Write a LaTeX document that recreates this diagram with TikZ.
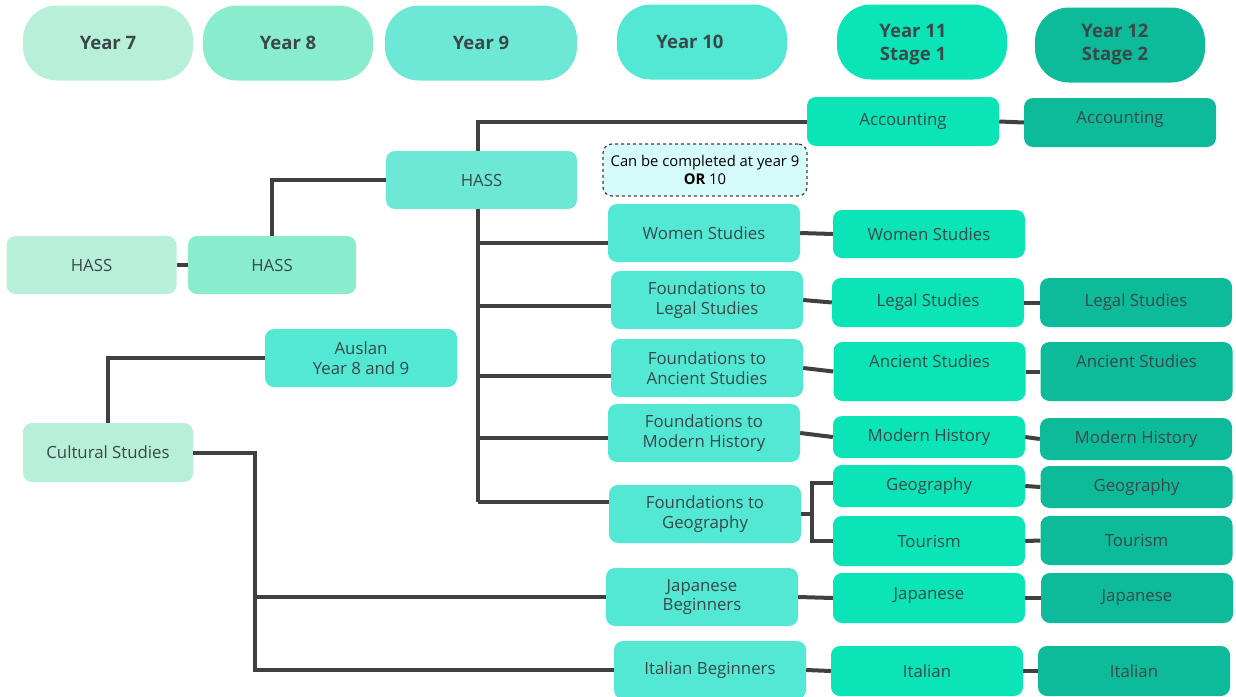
\documentclass[tikz,border=0pt]{standalone}
\usepackage{fontspec}
\setmainfont{Open Sans}

\definecolor{c7}{HTML}{B8EFD9}
\definecolor{c8}{HTML}{88ECCD}
\definecolor{c9}{HTML}{6DE8D6}
\definecolor{c10}{HTML}{52E8D4}
\definecolor{c11}{HTML}{0AE4B6}
\definecolor{c12}{HTML}{0DBA9A}
\definecolor{notefill}{HTML}{D5FBFA}
\definecolor{linecol}{HTML}{404040}
\definecolor{txt}{HTML}{3A4848}

\tikzset{
  yearpill/.style={rounded corners=34pt, minimum width=170pt, minimum height=75pt,
    inner sep=0pt, align=center, text=txt, font=\fontsize{18.5}{23}\selectfont\bfseries},
  course/.style={rounded corners=9pt, minimum width=192pt, minimum height=58pt,
    inner sep=0pt, align=center, text=txt, font=\fontsize{16.8}{19.5}\selectfont},
  notebox/.style={rounded corners=9pt, draw=linecol, dashed, line width=1.2pt,
    fill=notefill, minimum width=204pt, minimum height=52pt, inner sep=0pt,
    align=center, text=black, font=\fontsize{14.8}{18}\selectfont},
  textup/.style={text depth=#1},
  link/.style={draw=linecol, line width=4pt}
}
% shifts a heading line to the left of the pill's centre
\newcommand{\leftby}[1]{\hspace*{-#1}}

\begin{document}
\begin{tikzpicture}[x=1pt, y=-1pt]
\useasboundingbox (0,0) rectangle (1236,696);

% year headings
\node[yearpill, fill=c7]  (y7)  at (108,43)  {Year 7};
\node[yearpill, fill=c8]  (y8)  at (288,43)  {Year 8};
\node[yearpill, fill=c9, minimum width=192pt] (y9) at (481,43) {Year 9};
\node[yearpill, fill=c10] (y10) at (702,42)  {\leftby{24pt}Year 10};
\node[yearpill, fill=c11, text depth=-3pt] (y11) at (922,42) {\leftby{18pt}Year 11\\\leftby{18pt}Stage 1};
\node[yearpill, fill=c12] (y12) at (1120,45) {\leftby{10pt}Year 12\\\leftby{10pt}Stage 2};

% years 7 to 9
\node[course, fill=c7, minimum width=170pt] (hass7) at (91.5,265) {HASS};
\node[course, fill=c8, minimum width=168pt] (hass8) at (272,265) {HASS};
\node[course, fill=c9, minimum width=191pt] (hass9) at (481.5,180) {HASS};
\node[course, fill=c10] (auslan) at (361,358) {Auslan\\Year 8 and 9};
\node[course, fill=c7, minimum width=170pt, minimum height=59pt] (cult) at (108,452.5) {Cultural Studies};

% year 10
\node[notebox] (note) at (705,170) {Can be completed at year 9\\\textbf{OR} 10};
\node[course, fill=c10] (fwom) at (704,233) {Women Studies};
\node[course, fill=c10] (fleg) at (707,300) {Foundations to\\Legal Studies};
\node[course, fill=c10] (fanc) at (707,368) {Foundations to\\Ancient Studies};
\node[course, fill=c10] (fmod) at (704,433) {Foundations to\\Modern History};
\node[course, fill=c10] (fgeo) at (705,514) {Foundations to\\Geography};
\node[course, fill=c10] (fjap) at (702,597) {Japanese\\Beginners};
\node[course, fill=c10] (fita) at (710,670) {Italian Beginners};

% year 11
\node[course, fill=c11, minimum height=49pt] (acc11)  at (903,121.5) {Accounting};
\node[course, fill=c11, minimum height=48pt] (wom11)  at (929,234)   {Women Studies};
\node[course, fill=c11, minimum height=49pt] (leg11)  at (928,302.5) {Legal Studies};
\node[course, fill=c11, minimum height=59pt, textup=20pt] (anc11) at (929.5,371.5) {Ancient Studies};
\node[course, fill=c11, minimum height=42pt] (mod11)  at (929,437)   {Modern History};
\node[course, fill=c11, minimum height=42pt] (geo11)  at (929,486)   {Geography};
\node[course, fill=c11, minimum height=50pt] (tour11) at (929,541)   {Tourism};
\node[course, fill=c11, minimum height=50pt, textup=10pt] (jap11) at (929,598) {Japanese};
\node[course, fill=c11, minimum height=50pt] (ita11)  at (927,671)   {Italian};

% year 12
\node[course, fill=c12, minimum height=49pt, textup=10pt] (acc12) at (1120,122.5) {Accounting};
\node[course, fill=c12, minimum height=49pt] (leg12)  at (1136,302.5) {Legal Studies};
\node[course, fill=c12, minimum height=59pt, textup=20pt] (anc12) at (1136.5,371.5) {Ancient Studies};
\node[course, fill=c12, minimum height=42pt] (mod12)  at (1136,439)   {Modern History};
\node[course, fill=c12, minimum height=42pt] (geo12)  at (1136.5,487) {Geography};
\node[course, fill=c12, minimum height=49pt] (tour12) at (1136.5,540.5) {Tourism};
\node[course, fill=c12, minimum height=50pt] (jap12)  at (1137,598)   {Japanese};
\node[course, fill=c12, minimum height=50pt] (ita12)  at (1134,671)   {Italian};

% helper columns for the vertical trunks
\coordinate (trunk) at (478,0);
\coordinate (langx) at (255,0);
\coordinate (geox)  at (812,0);

% where the HASS branches meet the year 10 boxes
\coordinate (bwom) at ([yshift=-10pt]fwom.west);
\coordinate (bleg) at ([yshift=-6pt]fleg.west);
\coordinate (banc) at ([yshift=-8pt]fanc.west);
\coordinate (bmod) at ([yshift=-5pt]fmod.west);
\coordinate (bgeo) at ([yshift=12pt]fgeo.west);
\coordinate (bgeo11) at ([yshift=3pt]geo11.west);

% HASS pathway
\path[link] (hass7.east) -- (hass8.west);
\path[link] (hass8.north) |- (hass9.west);
\path[link] (trunk |- hass9.north) |- (acc11.west);
\path[link] (acc11.east) -- (acc12.west);
\path[link] (trunk |- hass9.south) -- (trunk |- bgeo);
\foreach \b in {bwom,bleg,banc,bmod,bgeo}
  \path[link] (trunk |- \b) -- (\b);

% year 10 to years 11 and 12
\path[link] (fwom.east) -- (wom11.west);
\path[link] (fleg.east) -- (leg11.west);
\path[link] (leg11.east) -- (leg12.west);
\path[link] (fanc.east) -- (anc11.west);
\path[link] (anc11.east) -- (anc12.west);
\path[link] (fmod.east) -- (mod11.west);
\path[link] (mod11.east) -- (mod12.west);
\path[link] (fgeo.east) -- (geox |- fgeo.east);
\path[link] (bgeo11) -| (geox |- tour11.west) -- (tour11.west);
\path[link] (geo11.east) -- (geo12.west);
\path[link] (tour11.east) -- (tour12.west);
\path[link] (fjap.east) -- (jap11.west);
\path[link] (jap11.east) -- (jap12.west);
\path[link] (fita.east) -- (ita11.west);
\path[link] (ita11.east) -- (ita12.west);

% cultural studies pathway
\path[link] (cult.north) |- (auslan.west);
\path[link] (cult.east) -| (langx |- fita.west) -- (fita.west);
\path[link] (langx |- fjap.west) -- (fjap.west);
\end{tikzpicture}
\end{document}
